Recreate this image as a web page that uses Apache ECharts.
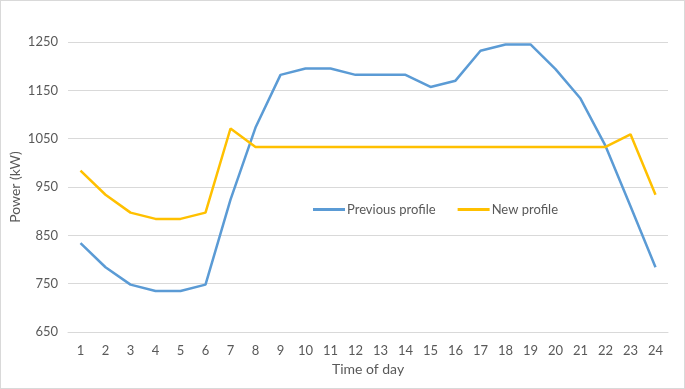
<!DOCTYPE html>
<html lang="en">
<head>
    <meta charset="UTF-8">
    <title>Power profile</title>
    <script src="https://cdn.jsdelivr.net/npm/echarts@6/dist/echarts.min.js"></script>
    <style>
        html, body { margin: 0; padding: 0; background: #fff; }
        #main { width: 683px; height: 387px; border: 1px solid #d9d9d9; }
    </style>
</head>
<body>
    <div id="main"></div>
    <script type="text/javascript">
        // hours of the day
        var hours = ['1', '2', '3', '4', '5', '6', '7', '8', '9', '10', '11', '12',
                     '13', '14', '15', '16', '17', '18', '19', '20', '21', '22', '23', '24'];
        // old load profile (kW)
        var previousProfile = [834, 784, 748, 735, 735, 748, 924, 1073, 1182, 1195, 1195, 1182,
                               1182, 1182, 1157, 1170, 1232, 1245, 1245, 1194, 1133, 1035, 910, 784];
        // new load profile (kW)
        var newProfile = [984, 934, 897, 884, 884, 897, 1071, 1033, 1033, 1033, 1033, 1033,
                          1033, 1033, 1033, 1033, 1033, 1033, 1033, 1033, 1033, 1033, 1059, 934];

        var font = 'Lato, "Open Sans", sans-serif';
        var myChart = echarts.init(document.getElementById('main'));
        var option = {
            animation: false,
            textStyle: { fontFamily: font },
            legend: {
                top: 197,
                left: 307,
                itemWidth: 32,
                itemHeight: 3,
                itemGap: 22,
                icon: 'rect',
                textStyle: { color: '#595959', fontSize: 13, fontFamily: font, padding: [0, 0, 0, -3] },
                data: ['Previous profile', 'New profile']
            },
            grid: { left: 67, right: 16, top: 41, bottom: 56, outerBoundsMode: 'none', containLabel: false },
            xAxis: {
                type: 'category',
                data: hours,
                name: 'Time of day',
                nameLocation: 'middle',
                nameGap: 30,
                nameMoveOverlap: false,
                nameTextStyle: { color: '#595959', fontSize: 14, fontFamily: font },
                axisLine: { lineStyle: { color: '#d9d9d9' } },
                axisTick: { show: false },
                axisLabel: { color: '#595959', fontSize: 13, margin: 12 }
            },
            yAxis: {
                type: 'value',
                min: 650,
                max: 1250,
                interval: 100,
                name: 'Power (kW)',
                nameLocation: 'middle',
                nameGap: 46,
                nameMoveOverlap: false,
                nameTextStyle: { color: '#595959', fontSize: 14, fontFamily: font },
                axisLine: { show: false },
                axisTick: { show: false },
                axisLabel: {
                    color: '#595959', fontSize: 13, margin: 10,
                    formatter: function (v) { return String(v); }
                },
                splitLine: { lineStyle: { color: '#d9d9d9' } }
            },
            series: [
                {
                    name: 'Previous profile',
                    type: 'line',
                    data: previousProfile,
                    symbol: 'none',
                    itemStyle: { color: '#5b9bd5' },
                    lineStyle: { color: '#5b9bd5', width: 2.5 }
                },
                {
                    name: 'New profile',
                    type: 'line',
                    data: newProfile,
                    symbol: 'none',
                    itemStyle: { color: '#ffc000' },
                    lineStyle: { color: '#ffc000', width: 2.5 }
                }
            ]
        };
        myChart.setOption(option);
    </script>
</body>
</html>
